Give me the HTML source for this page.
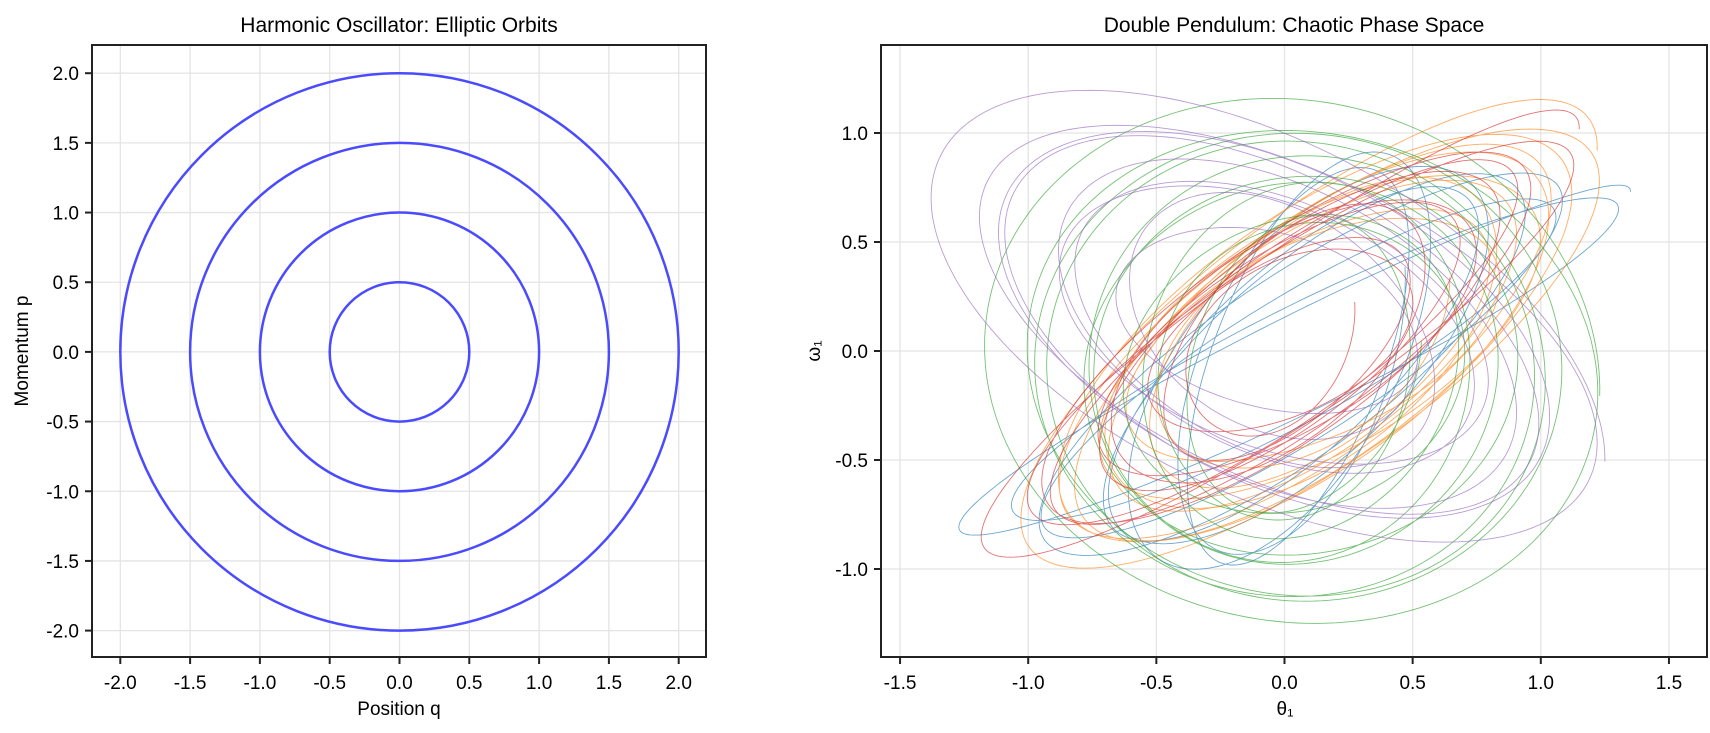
<!DOCTYPE html>
<html><head><meta charset="utf-8"><style>
body{margin:0;background:#fff;}
svg{display:block;font-family:"Liberation Sans",Arial,sans-serif;}
</style></head><body>
<svg id="s" width="1710" height="733" xmlns="http://www.w3.org/2000/svg">
<rect width="1710" height="733" fill="#fff"/>
<g id="g1"></g>
<g id="g2"></g>
<text x="399" y="32" font-size="21" text-anchor="middle">Harmonic Oscillator: Elliptic Orbits</text>
<text x="1294" y="32" font-size="21" text-anchor="middle">Double Pendulum: Chaotic Phase Space</text>
<text x="399" y="715" font-size="19" text-anchor="middle">Position q</text>
<text x="1285" y="715" font-size="19" text-anchor="middle">θ₁</text>
<text x="28" y="351" font-size="19" text-anchor="middle" transform="rotate(-90 28 351)">Momentum p</text>
<text x="820" y="351" font-size="19" text-anchor="middle" transform="rotate(-90 820 351)">ω₁</text>
</svg>
<script>
const NS="http://www.w3.org/2000/svg";
function el(p,t,a,txt){const e=document.createElementNS(NS,t);for(const k in a)e.setAttribute(k,a[k]);if(txt!==undefined)e.textContent=txt;p.appendChild(e);return e;}
function axes(g,box,xs,ys,xt,yt){
  const [L,T,R,B]=box;
  for(const v of xt){const x=xs(v);el(g,'line',{x1:x,x2:x,y1:T,y2:B,stroke:'#e4e4e4','stroke-width':1.3});}
  for(const v of yt){const y=ys(v);el(g,'line',{x1:L,x2:R,y1:y,y2:y,stroke:'#e4e4e4','stroke-width':1.3});}
}
function frame(g,box,xs,ys,xt,yt){
  const [L,T,R,B]=box;
  el(g,'rect',{x:L,y:T,width:R-L,height:B-T,fill:'none',stroke:'#222','stroke-width':2});
  for(const v of xt){const x=xs(v);el(g,'line',{x1:x,x2:x,y1:B,y2:B+7,stroke:'#222','stroke-width':2});el(g,'text',{x:x,y:B+32,'font-size':19,'text-anchor':'middle'},v.toFixed(1));}
  for(const v of yt){const y=ys(v);el(g,'line',{x1:L-7,x2:L,y1:y,y2:y,stroke:'#222','stroke-width':2});el(g,'text',{x:L-13,y:y+7,'font-size':19,'text-anchor':'end'},v.toFixed(1));}
}
const g1=document.getElementById('g1');
const b1=[92,45,706,657];
const xs1=v=>399.5+v*139.6, ys1=v=>351.9-v*139.35;
const t1=[-2,-1.5,-1,-0.5,0,0.5,1,1.5,2];
axes(g1,b1,xs1,ys1,t1,t1);
for(const r of [0.5,1,1.5,2]) el(g1,'ellipse',{cx:399.5,cy:351.9,rx:r*139.6,ry:r*139.35,fill:'none',stroke:'#4a4aff','stroke-width':2.5});
frame(g1,b1,xs1,ys1,t1,t1);
const g2=document.getElementById('g2');
const b2=[881,45,1707,657];
const xs2=v=>1284.5+v*256.3, ys2=v=>351-v*218;
const xt2=[-1.5,-1,-0.5,0,0.5,1,1.5], yt2=[-1,-0.5,0,0.5,1];
axes(g2,b2,xs2,ys2,xt2,yt2);
const series=[
 {c:'#1f77b4',cx:0.05,cy:-0.05,a0:1.3,a1:0.35,b0:0.75,b1:0.95,d0:1.3,d1:0.5,n:9},
 {c:'#ff7f0e',cx:0.12,cy:0.05,a0:1.1,a1:0.6,b0:1.05,b1:0.55,d0:0.9,d1:0.5,n:10},
 {c:'#2ca02c',cx:0.05,cy:-0.08,a0:1.18,a1:0.45,b0:1.2,b1:0.6,d0:-0.1,d1:0.2,n:11},
 {c:'#d62728',cx:0.0,cy:0.05,a0:1.15,a1:0.35,b0:1.0,b1:0.4,d0:1.15,d1:0.4,n:10},
 {c:'#9467bd',cx:-0.05,cy:0.12,a0:1.3,a1:0.5,b0:1.05,b1:0.45,d0:-0.6,d1:-0.3,n:9}
];
for(const s of series){
  let d='';const N=s.n*200;
  for(let i=0;i<=N;i++){
    const f=i/N,t=f*s.n*2*Math.PI;
    const a=s.a0+(s.a1-s.a0)*f+0.08*Math.sin(t*0.37);
    const b=s.b0+(s.b1-s.b0)*f+0.06*Math.cos(t*0.29);
    const dd=s.d0+(s.d1-s.d0)*f;
    const x=s.cx+a*Math.cos(t), y=s.cy+b*Math.sin(t+dd);
    d+=(i?'L':'M')+xs2(x).toFixed(1)+' '+ys2(y).toFixed(1);
  }
  el(g2,'path',{d:d,fill:'none',stroke:s.c,'stroke-width':0.9,'stroke-opacity':0.65});
}
frame(g2,b2,xs2,ys2,xt2,yt2);
</script>
</body></html>
